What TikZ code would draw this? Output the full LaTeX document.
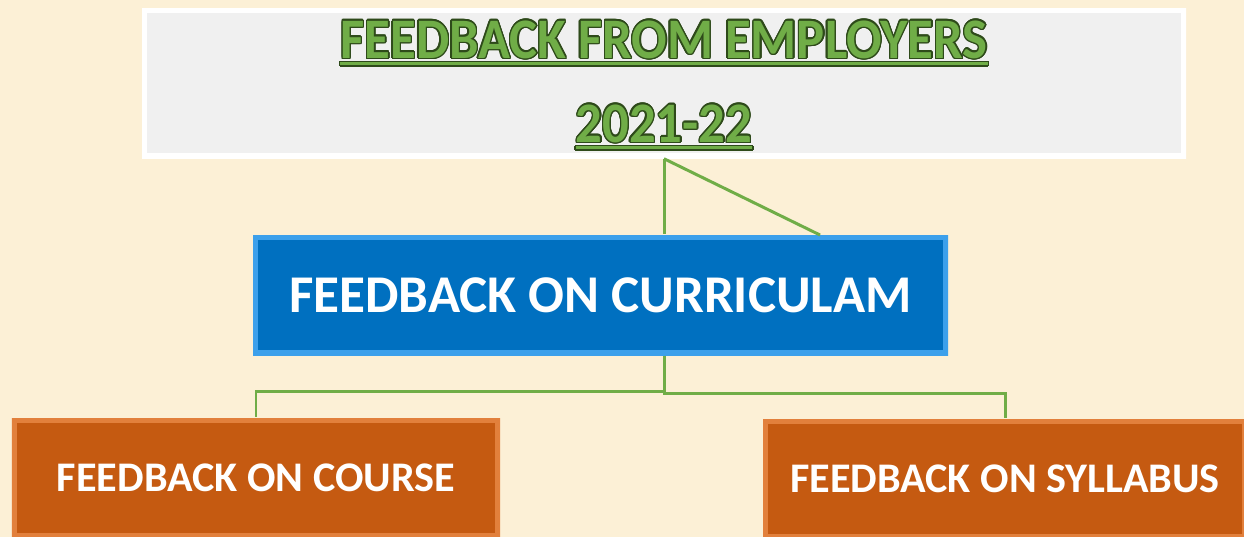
\documentclass[tikz,border=0pt]{standalone}
\usepackage{fontspec}
\setmainfont{Carlito}
\newfontfamily\headfont{Carlito}[FakeStretch=0.92]
\usepackage[copies]{contour}
\usepackage{tikz}
\contourlength{0.4pt}
\definecolor{bgcream}{RGB}{252,240,214}
\definecolor{headgray}{RGB}{240,240,240}
\definecolor{titlegreen}{RGB}{112,173,71}
\definecolor{titledark}{RGB}{46,74,26}
\definecolor{currblue}{RGB}{0,112,192}
\definecolor{curredge}{RGB}{60,160,235}
\definecolor{rust}{RGB}{197,90,17}
\definecolor{rustedge}{RGB}{226,128,60}
\newcommand{\greenul}[1]{\setbox0\hbox{#1}\rlap{\rule[-2pt]{\wd0}{0.85pt}}\box0}

\begin{document}
\begin{tikzpicture}[x=1cm,y=1cm,
	every node/.style={inner sep=0pt,align=center},
	bevel/.style={path picture={\draw[#1,line width=3pt] (path picture bounding box.south west) rectangle (path picture bounding box.north east);}},
	headbox/.style={fill=headgray,bevel=white,minimum width=10.44cm,minimum height=1.5cm,
		text=titlegreen,font=\headfont\fontsize{16.3}{23.9}\selectfont\bfseries},
	currbox/.style={fill=currblue,bevel=curredge,minimum width=6.95cm,minimum height=1.2cm,
		text=white,font=\fontsize{15.1}{18}\selectfont\bfseries},
	areabox/.style={fill=rust,bevel=rustedge,minimum height=1.2cm,
		text=white,font=\fontsize{12}{14}\selectfont\bfseries},
	link/.style={draw=titlegreen,line width=0.85pt}]
	\path[use as bounding box,fill=bgcream] (0,0) rectangle (12.44,-5.37);
	\node[headbox] (head) at (6.64,-0.83) {\rule{0pt}{12.2pt}\contour{titledark}{\greenul{FEEDBACK FROM EMPLOYERS}}\\\contour{titledark}{\greenul{2021-22}}};
	\node[currbox] (curr) at (6.005,-2.95) {FEEDBACK ON CURRICULAM};
	\node[areabox,minimum width=4.88cm] (course) at (2.56,-4.78) {FEEDBACK ON COURSE};
	\node[areabox,minimum width=4.84cm] (syll) at (10.05,-4.79) {FEEDBACK ON SYLLABUS};
	\coordinate (slant) at (8.2,-2.35);
	\draw[link] (head.south) -- (head.south |- curr.north);
	\draw[link] (head.south) -- (slant);
	\draw[link] (head.south |- curr.south) -- ++(0,-0.36) -| (course.north);
	\draw[link] (head.south |- curr.south) -- ++(0,-0.38) -| (syll.north);
\end{tikzpicture}
\end{document}
